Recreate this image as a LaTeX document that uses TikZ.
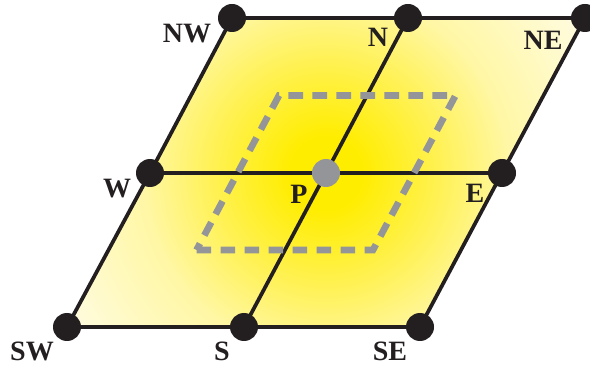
\documentclass[tikz,border=0pt]{standalone}
\usepackage{fontspec}
\setmainfont{Liberation Serif}
\usetikzlibrary{calc}

\definecolor{gridblack}{RGB}{35,31,32}
\definecolor{gridgray}{RGB}{147,149,152}
\definecolor{cellcore}{RGB}{255,237,0}
\definecolor{cellmid}{RGB}{255,241,80}
\definecolor{cellpale}{RGB}{255,247,165}
\definecolor{cellrim}{RGB}{255,252,228}

\pgfdeclareradialshading{cellglow}{\pgfpoint{0bp}{0bp}}{color(0bp)=(cellcore); color(3bp)=(cellcore); color(9bp)=(cellmid); color(15bp)=(cellpale); color(25bp)=(cellrim); color(50bp)=(cellrim)}

\tikzset{
  gridline/.style={draw=gridblack, line width=2.8pt},
  volbox/.style={draw=gridgray, line width=5pt, dash pattern=on 11pt off 7pt},
  nbpt/.style={circle, fill=gridblack, inner sep=0pt, minimum size=21pt},
  ctrpt/.style={circle, fill=gridgray, inner sep=0pt, minimum size=21pt},
  lbl/.style={inner sep=0pt, text=gridblack, font=\fontsize{21}{25}\selectfont\bfseries}
}

\begin{document}
\begin{tikzpicture}[x=0.75pt,y=0.75pt,yscale=-1]
\useasboundingbox (0,0) rectangle (590,367);

% grid points
\coordinate (cNW) at (232,18);
\coordinate (cN) at (408,18);
\coordinate (cNE) at (585,18);
\coordinate (cW) at (150,173);
\coordinate (cP) at (326,173);
\coordinate (cE) at (502,173);
\coordinate (cSW) at (67,327);
\coordinate (cS) at (244,327);
\coordinate (cSE) at (420,327);

% yellow cells
\begin{scope}
\clip (cSW) -- (cSE) -- (cNE) -- (cNW) -- cycle;
\shade[shading=cellglow] (cP) circle (305);
\end{scope}

% grid lines
\draw[gridline] (cNW) -- (cN) -- (cNE);
\draw[gridline] (cW) -- (cP) -- (cE);
\draw[gridline] (cSW) -- (cS) -- (cSE);
\draw[gridline] (cSW) -- (cW) -- (cNW);
\draw[gridline] (cS) -- (cP) -- (cN);
\draw[gridline] (cSE) -- (cE) -- (cNE);

% control volume
\draw[volbox] ($(cP)!0.5!(cSW)$) -- ($(cP)!0.5!(cSE)$) -- ($(cP)!0.5!(cNE)$) -- ($(cP)!0.5!(cNW)$) -- cycle;

% points
\node[nbpt] (NW) at (cNW) {};
\node[nbpt] (N) at (cN) {};
\node[nbpt] (NE) at (cNE) {};
\node[nbpt] (W) at (cW) {};
\node[ctrpt] (P) at (cP) {};
\node[nbpt] (E) at (cE) {};
\node[nbpt] (SW) at (cSW) {};
\node[nbpt] (S) at (cS) {};
\node[nbpt] (SE) at (cSE) {};

% labels
\node[lbl] (tNW) at (187,34) {NW};
\node[lbl] (tN) at (378,37) {N};
\node[lbl] (tNE) at (543,40) {NE};
\node[lbl] (tW) at (117,189) {W};
\node[lbl] (tP) at (299,194) {P};
\node[lbl] (tE) at (475,193) {E};
\node[lbl] (tSW) at (32,351) {SW};
\node[lbl] (tS) at (222,351) {S};
\node[lbl] (tSE) at (390,351) {SE};
\end{tikzpicture}
\end{document}
